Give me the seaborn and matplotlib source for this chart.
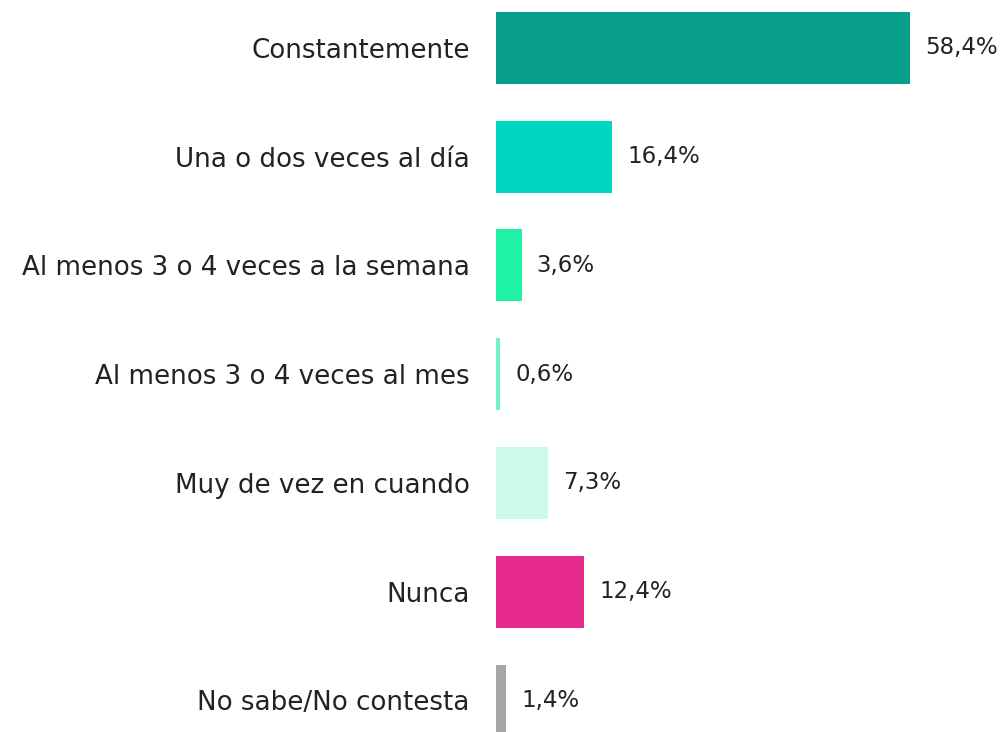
import matplotlib
matplotlib.use("Agg")
import matplotlib.pyplot as plt
import seaborn as sns
import pandas as pd

# --- Data ---
categorias = [
    "Constantemente",
    "Una o dos veces al día",
    "Al menos 3 o 4 veces a la semana",
    "Al menos 3 o 4 veces al mes",
    "Muy de vez en cuando",
    "Nunca",
    "No sabe/No contesta",
]
porcentajes = [58.4, 16.4, 3.6, 0.6, 7.3, 12.4, 1.4]
colores = ["#079E8C", "#00D5C0", "#1DF2A5", "#72F0CC", "#CCFAEA", "#E62A8D", "#A6A6A6"]

df = pd.DataFrame({"categoria": categorias, "pct": porcentajes})

# --- Plot ---
sns.set_style("white")
plt.rcParams["font.family"] = ["DejaVu Sans"]

fig = plt.figure(figsize=(10.04, 7.32), dpi=100)
ax = fig.add_axes([496 / 1004, 0, 508 / 1004, 1])

sns.barplot(data=df, x="pct", y="categoria", hue="categoria", palette=colores,
            orient="h", width=0.66, saturation=1, linewidth=0, legend=False, ax=ax)

for i, v in enumerate(porcentajes):
    ax.annotate(f"{v:.1f}%".replace(".", ","), xy=(v, i), xytext=(11, 0),
                textcoords="offset points", va="center", ha="left",
                fontsize=16.5, color="#222222")

ax.set_xlim(0, 71.66)
ax.set_ylim(6.29, -0.44)
ax.set_xlabel("")
ax.set_ylabel("")
ax.set_xticks([])
ax.tick_params(axis="y", length=0, pad=19, labelsize=18.8, labelcolor="#222222")
sns.despine(ax=ax, left=True, bottom=True)

fig.savefig("out.png", dpi=100)
